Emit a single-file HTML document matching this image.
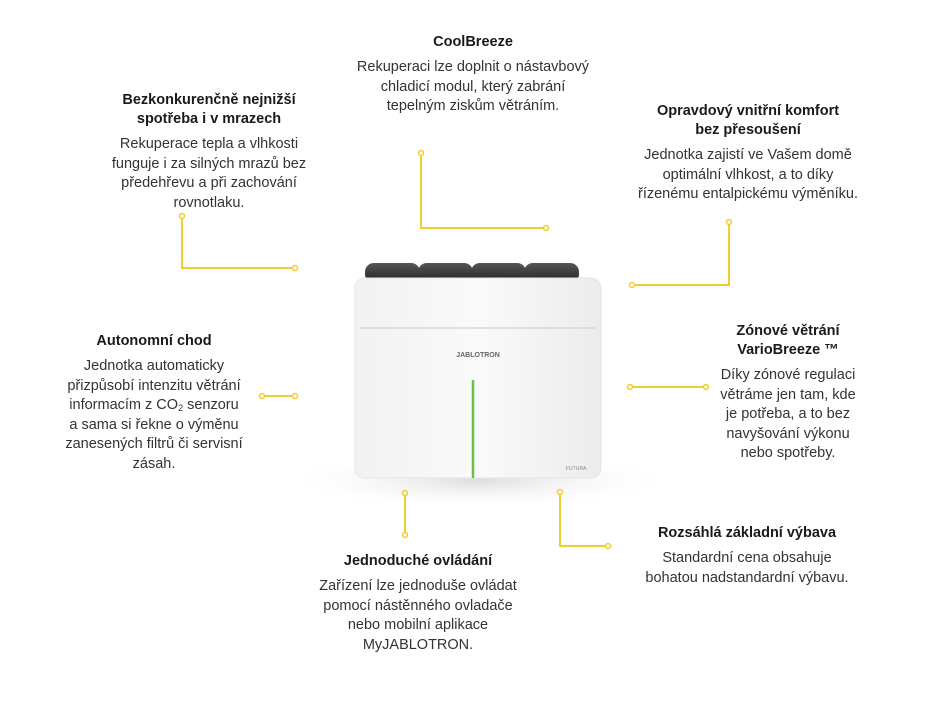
<!DOCTYPE html>
<html><head><meta charset="utf-8"><style>
html,body{margin:0;padding:0;background:#fff;}
body{width:927px;height:703px;position:relative;overflow:hidden;font-family:"Liberation Sans",sans-serif;color:#333;}
.b{position:absolute;width:300px;text-align:center;font-size:14.5px;line-height:19.5px;}
.b h{display:block;font-weight:bold;color:#1a1a1a;font-size:14.5px;line-height:19px;margin-bottom:6px;}
.b sub{font-size:9px;line-height:0;vertical-align:-2px;}
svg{position:absolute;left:0;top:0;}
</style></head><body>
<svg width="927" height="703">
<defs>
<radialGradient id="sh" cx="50%" cy="50%" r="50%"><stop offset="0" stop-color="#ddd"/><stop offset="1" stop-color="#fff" stop-opacity="0"/></radialGradient>
<linearGradient id="cap" x1="0" y1="0" x2="0" y2="1"><stop offset="0" stop-color="#555"/><stop offset="1" stop-color="#222"/></linearGradient>
<linearGradient id="bd" x1="0" y1="0" x2="1" y2="0"><stop offset="0" stop-color="#f2f2f2"/><stop offset=".5" stop-color="#fafafa"/><stop offset="1" stop-color="#ececec"/></linearGradient>
</defs>
<ellipse cx="478" cy="480" rx="200" ry="30" fill="url(#sh)"/>
<g fill="url(#cap)">
<rect x="365" y="263" width="55" height="20" rx="9"/>
<rect x="418" y="263" width="55" height="20" rx="9"/>
<rect x="471" y="263" width="55" height="20" rx="9"/>
<rect x="524" y="263" width="55" height="20" rx="9"/>
</g>
<rect x="355" y="278" width="246" height="200" rx="10" fill="url(#bd)" stroke="#e4e4e4"/>
<line x1="360" y1="328" x2="596" y2="328" stroke="#d8d8d8" stroke-width="1.5"/>
<text x="478" y="357" font-size="7" font-weight="bold" fill="#666" text-anchor="middle" font-family="Liberation Sans">JABLOTRON</text>
<text x="566" y="470" font-size="5" fill="#888" font-family="Liberation Sans">FUTURA</text>
<line x1="473" y1="380" x2="473" y2="478" stroke="#6cc04a" stroke-width="2.5"/>
<g stroke="#f0cf2c" stroke-width="2" fill="none">
<polyline points="182,216 182,268 295,268"/>
<polyline points="421,153 421,228 546,228"/>
<polyline points="729,222 729,285 632,285"/>
<line x1="262" y1="396" x2="295" y2="396"/>
<line x1="630" y1="387" x2="706" y2="387"/>
<line x1="405" y1="493" x2="405" y2="535"/>
<polyline points="560,492 560,546 608,546"/>
</g>
<g stroke="#f0cf2c" stroke-width="1.5" fill="#fff">
<circle cx="182" cy="216" r="2.5"/><circle cx="295" cy="268" r="2.5"/>
<circle cx="421" cy="153" r="2.5"/><circle cx="546" cy="228" r="2.5"/>
<circle cx="729" cy="222" r="2.5"/><circle cx="632" cy="285" r="2.5"/>
<circle cx="262" cy="396" r="2.5"/><circle cx="295" cy="396" r="2.5"/>
<circle cx="630" cy="387" r="2.5"/><circle cx="706" cy="387" r="2.5"/>
<circle cx="405" cy="493" r="2.5"/><circle cx="405" cy="535" r="2.5"/>
<circle cx="560" cy="492" r="2.5"/><circle cx="608" cy="546" r="2.5"/>
</g>
</svg>
<div class="b" style="left:323px;top:33px;"><h>CoolBreeze</h>Rekuperaci lze doplnit o nástavbový<br>chladicí modul, který zabrání<br>tepelným ziskům větráním.</div>
<div class="b" style="left:59px;top:91px;"><h>Bezkonkurenčně nejnižší<br>spotřeba i v mrazech</h>Rekuperace tepla a vlhkosti<br>funguje i za silných mrazů bez<br>předehřevu a při zachování<br>rovnotlaku.</div>
<div class="b" style="left:598px;top:102px;"><h>Opravdový vnitřní komfort<br>bez přesoušení</h>Jednotka zajistí ve Vašem domě<br>optimální vlhkost, a to díky<br>řízenému entalpickému výměníku.</div>
<div class="b" style="left:4px;top:332px;"><h>Autonomní chod</h>Jednotka automaticky<br>přizpůsobí intenzitu větrání<br>informacím z CO<sub>2</sub> senzoru<br>a sama si řekne o výměnu<br>zanesených filtrů či servisní<br>zásah.</div>
<div class="b" style="left:638px;top:322px;"><h>Zónové větrání<br>VarioBreeze ™</h>Díky zónové regulaci<br>větráme jen tam, kde<br>je potřeba, a to bez<br>navyšování výkonu<br>nebo spotřeby.</div>
<div class="b" style="left:597px;top:524px;"><h>Rozsáhlá základní výbava</h>Standardní cena obsahuje<br>bohatou nadstandardní výbavu.</div>
<div class="b" style="left:268px;top:552px;"><h>Jednoduché ovládání</h>Zařízení lze jednoduše ovládat<br>pomocí nástěnného ovladače<br>nebo mobilní aplikace<br>MyJABLOTRON.</div>
</body></html>
